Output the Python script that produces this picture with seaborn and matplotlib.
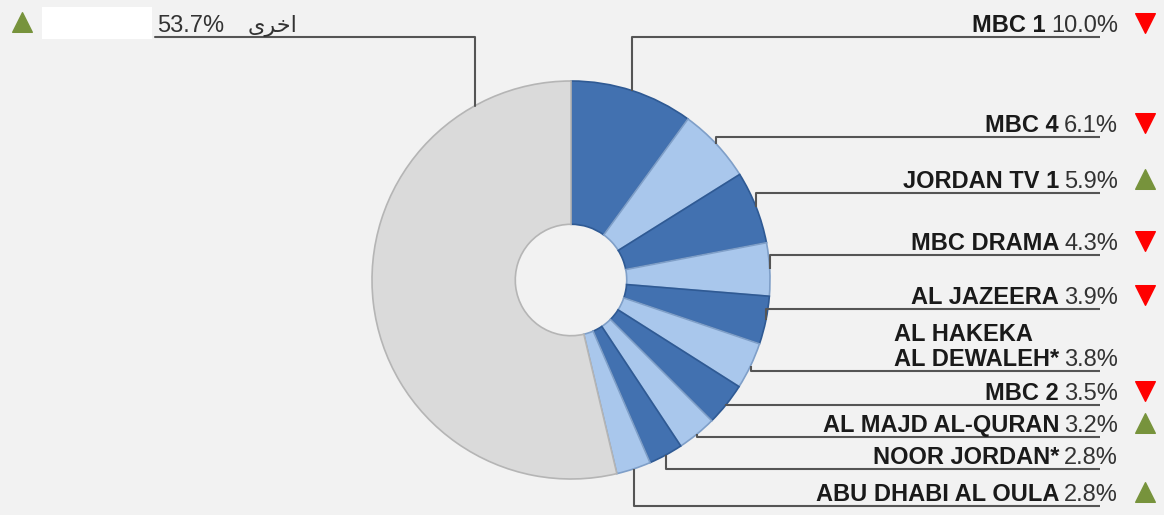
import numpy as np
import matplotlib
matplotlib.use("Agg")
import matplotlib.pyplot as plt
import seaborn as sns
from matplotlib.patches import Rectangle

# Data
channels = ['MBC 1', 'MBC 4', 'JORDAN TV 1', 'MBC DRAMA', 'AL JAZEERA',
            'AL HAKEKA\nAL DEWALEH*', 'MBC 2', 'AL MAJD AL-QURAN',
            'NOOR JORDAN*', 'ABU DHABI AL OULA']
shares = [10.0, 6.1, 5.9, 4.3, 3.9, 3.8, 3.5, 3.2, 2.8, 2.8]
trends = ['down', 'down', 'up', 'down', 'down', None, 'down', 'up', None, 'up']
other_label = 'اخرى'
other_share = 53.7
other_trend = 'up'

# Layout (pixels from top-left of the 1164x515 image)
W, H = 1164, 515
CX, CY, R = 571, 280, 199
label_y = [37, 137, 193, 255, 309, 371, 405, 437, 469, 506]
line_end = 1100
text_end = 1118
tri_x = 1145

dark_blue = '#4271b0'
light_blue = '#a9c7ec'
grey = '#dadada'
bg = '#f2f2f2'
line_col = '#555555'

sns.set_theme(style='white')
plt.rcParams['font.family'] = ['Liberation Sans', 'DejaVu Sans']


def px(x):
    return (x - CX) / R


def py(y):
    return (CY - y) / R


def shape_ar(s):
    # matplotlib has no arabic shaping, map to presentation forms in visual order
    forms = {'ا': '\uFE8D', 'خ': '\uFEA7', 'ر': '\uFEAE', 'ى': '\uFEEF'}
    return ''.join(forms.get(c, c) for c in s)[::-1]


fig = plt.figure(figsize=(W / 100, H / 100), dpi=100, facecolor=bg)
ax = fig.add_axes([0, 0, 1, 1])
ax.set_facecolor(bg)

values = shares + [other_share]
colors = [dark_blue if i % 2 == 0 else light_blue for i in range(len(shares))] + [grey]
edges = ['#2f5a94' if i % 2 == 0 else '#7f9fc8' for i in range(len(shares))] + ['#b5b5b5']
wedges, _ = ax.pie(values, startangle=90, counterclock=False, colors=colors,
                   radius=1, center=(0, 0),
                   wedgeprops=dict(width=0.72, linewidth=1.2))
for w, ec in zip(wedges, edges):
    w.set_edgecolor(ec)

ax.set_xlim(px(0), px(W))
ax.set_ylim(py(H), py(0))
ax.set_aspect('auto')
ax.axis('off')

fs = 17
renderer = fig.canvas.get_renderer()

for i, (name, val, tr) in enumerate(zip(channels, shares, trends)):
    w = wedges[i]
    mid = np.deg2rad((w.theta1 + w.theta2) / 2)
    ax_x, ax_y = np.cos(mid), np.sin(mid)
    ly = py(label_y[i])
    ax.plot([ax_x, ax_x, px(line_end)], [ax_y, ly, ly], color=line_col, lw=1.5,
            solid_capstyle='butt', zorder=1)
    base = py(label_y[i] - 5)
    t = ax.text(px(text_end), base, f'{val:.1f}%', ha='right', va='baseline',
                fontsize=fs, color='#333333')
    bb = t.get_window_extent(renderer)
    left = bb.x0 / fig.dpi * 100
    ax.text(px(left - 5), base, name, ha='right', va='baseline', fontsize=fs,
            fontweight='bold', color='#1a1a1a', multialignment='left',
            linespacing=1.1)
    if tr == 'up':
        ax.scatter(px(tri_x), py(label_y[i] - 14), marker='^', s=200, color='#77933c', zorder=3)
    elif tr == 'down':
        ax.scatter(px(tri_x), py(label_y[i] - 14), marker='v', s=200, color='#ff0000', zorder=3)

# label for the remaining share
w = wedges[-1]
ang = np.deg2rad(w.theta1 + 0.15 * (w.theta2 - w.theta1))
ox, oy = np.cos(ang), np.sin(ang)
ax.plot([ox, ox, px(155)], [oy, py(37), py(37)], color=line_col, lw=1.5, zorder=1)
ax.add_patch(Rectangle((px(42), py(39)), 110 / R, 32 / R, facecolor='white',
                       edgecolor='none', zorder=2))
ax.text(px(157), py(32), f'{other_share:.1f}%', ha='left', va='baseline',
        fontsize=fs, color='#333333')
ax.text(px(248), py(32), shape_ar(other_label), ha='left', va='baseline',
        fontsize=fs - 1, color='#333333', family=['DejaVu Sans'])
if other_trend == 'up':
    ax.scatter(px(22), py(22), marker='^', s=200, color='#77933c', zorder=3)

fig.savefig('out.png', dpi=100, facecolor=bg)
